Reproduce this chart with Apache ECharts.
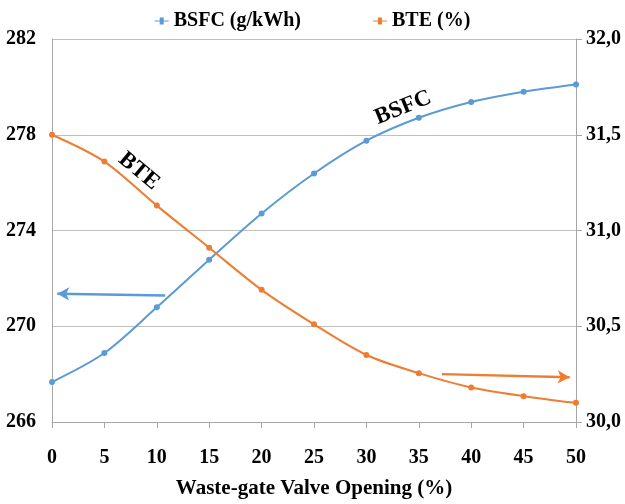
<!DOCTYPE html>
<html>
<head>
<meta charset="utf-8">
<script src="https://cdn.jsdelivr.net/npm/echarts@6/dist/echarts.min.js"></script>
<style>html,body{margin:0;padding:0;background:#fff}#c{width:625px;height:504px}</style>
</head>
<body>
<div id="c"></div>
<script>
// Waste-gate opening (%) and the two engine responses
const opening = [0, 5, 10, 15, 20, 25, 30, 35, 40, 45, 50];
const bsfc = [267.67, 268.88, 270.79, 272.78, 274.71, 276.38, 277.75, 278.71, 279.37, 279.80, 280.10];
const bte = [31.50, 31.36, 31.13, 30.91, 30.69, 30.51, 30.35, 30.255, 30.18, 30.135, 30.10];

const FONT = '"Liberation Serif", "Times New Roman", serif';
const BLUE = '#5B9BD5';
const ORANGE = '#ED7D31';

const pairs = arr => opening.map((x, i) => [x, arr[i]]);

const chart = echarts.init(document.getElementById('c'));
chart.setOption({
  animation: false,
  backgroundColor: '#fff',
  textStyle: { fontFamily: FONT },
  legend: {
    top: 6,
    left: 'center',
    itemGap: 72,
    itemWidth: 14,
    itemHeight: 8,
    textStyle: { fontFamily: FONT, fontWeight: 'bold', fontSize: 20, color: '#000' },
    data: [
      { name: 'BSFC (g/kWh)', icon: 'path://M0,4 L5,4 L5,1 L9,1 L9,4 L14,4 L14,5 L9,5 L9,8 L5,8 L5,5 L0,5 Z' },
      { name: 'BTE (%)', icon: 'path://M0,4 L5,4 L5,1 L9,1 L9,4 L14,4 L14,5 L9,5 L9,8 L5,8 L5,5 L0,5 Z' }
    ]
  },
  grid: { left: 52, right: 49, top: 39, bottom: 79 },
  xAxis: {
    type: 'value',
    min: 0, max: 50, interval: 5,
    name: 'Waste-gate Valve Opening (%)',
    nameLocation: 'middle',
    nameGap: 56,
    nameTextStyle: { fontFamily: FONT, fontWeight: 'bold', fontSize: 21, color: '#000' },
    axisLine: { lineStyle: { color: '#a6a6a6' } },
    axisTick: { show: true, length: 6, lineStyle: { color: '#a6a6a6' } },
    axisLabel: { fontFamily: FONT, fontWeight: 'bold', fontSize: 20, color: '#000', margin: 26 },
    splitLine: { show: false }
  },
  yAxis: [
    {
      type: 'value',
      min: 266, max: 282, interval: 4,
      axisLine: { show: true, lineStyle: { color: '#a6a6a6' } },
      axisTick: { show: false },
      axisLabel: { fontFamily: FONT, fontWeight: 'bold', fontSize: 20, color: '#000', margin: 16 },
      splitLine: { lineStyle: { color: '#bfbfbf' } }
    },
    {
      type: 'value',
      min: 30, max: 32, interval: 0.5,
      position: 'right',
      axisLine: { show: true, lineStyle: { color: '#a6a6a6' } },
      axisTick: { show: true, length: 6, lineStyle: { color: '#a6a6a6' } },
      axisLabel: {
        fontFamily: FONT, fontWeight: 'bold', fontSize: 20, color: '#000', margin: 10,
        formatter: v => v.toFixed(1).replace('.', ',')
      },
      splitLine: { show: false }
    }
  ],
  series: [
    {
      name: 'BSFC (g/kWh)',
      type: 'line',
      yAxisIndex: 0,
      data: pairs(bsfc),
      smooth: 0.3,
      symbol: 'circle',
      symbolSize: 6,
      itemStyle: { color: BLUE },
      lineStyle: { color: BLUE, width: 2 },
      markLine: {
        silent: true,
        symbol: ['none', 'arrow'],
        symbolSize: [10, 12],
        label: { show: false },
        lineStyle: { color: BLUE, width: 2.5, type: 'solid' },
        data: [[{ coord: [10.8, 271.28] }, { coord: [0.5, 271.36] }]]
      },
      markPoint: {
        silent: true,
        symbol: 'circle',
        symbolSize: 0,
        data: [{ coord: [33.5, 279.13], value: 'BSFC' }],
        label: {
          show: true, position: 'inside', rotate: 22,
          formatter: 'BSFC',
          fontFamily: FONT, fontWeight: 'bold', fontSize: 23, color: '#000'
        }
      }
    },
    {
      name: 'BTE (%)',
      type: 'line',
      yAxisIndex: 1,
      data: pairs(bte),
      smooth: 0.3,
      symbol: 'circle',
      symbolSize: 6,
      itemStyle: { color: ORANGE },
      lineStyle: { color: ORANGE, width: 2 },
      markLine: {
        silent: true,
        symbol: ['none', 'arrow'],
        symbolSize: [10, 12],
        label: { show: false },
        lineStyle: { color: ORANGE, width: 2.5, type: 'solid' },
        data: [[{ coord: [37.2, 30.25] }, { coord: [49.4, 30.234] }]]
      },
      markPoint: {
        silent: true,
        symbol: 'circle',
        symbolSize: 0,
        data: [{ coord: [8.3, 31.31], value: 'BTE' }],
        label: {
          show: true, position: 'inside', rotate: -40,
          formatter: 'BTE',
          fontFamily: FONT, fontWeight: 'bold', fontSize: 23, color: '#000'
        }
      }
    }
  ]
});
</script>
</body>
</html>
